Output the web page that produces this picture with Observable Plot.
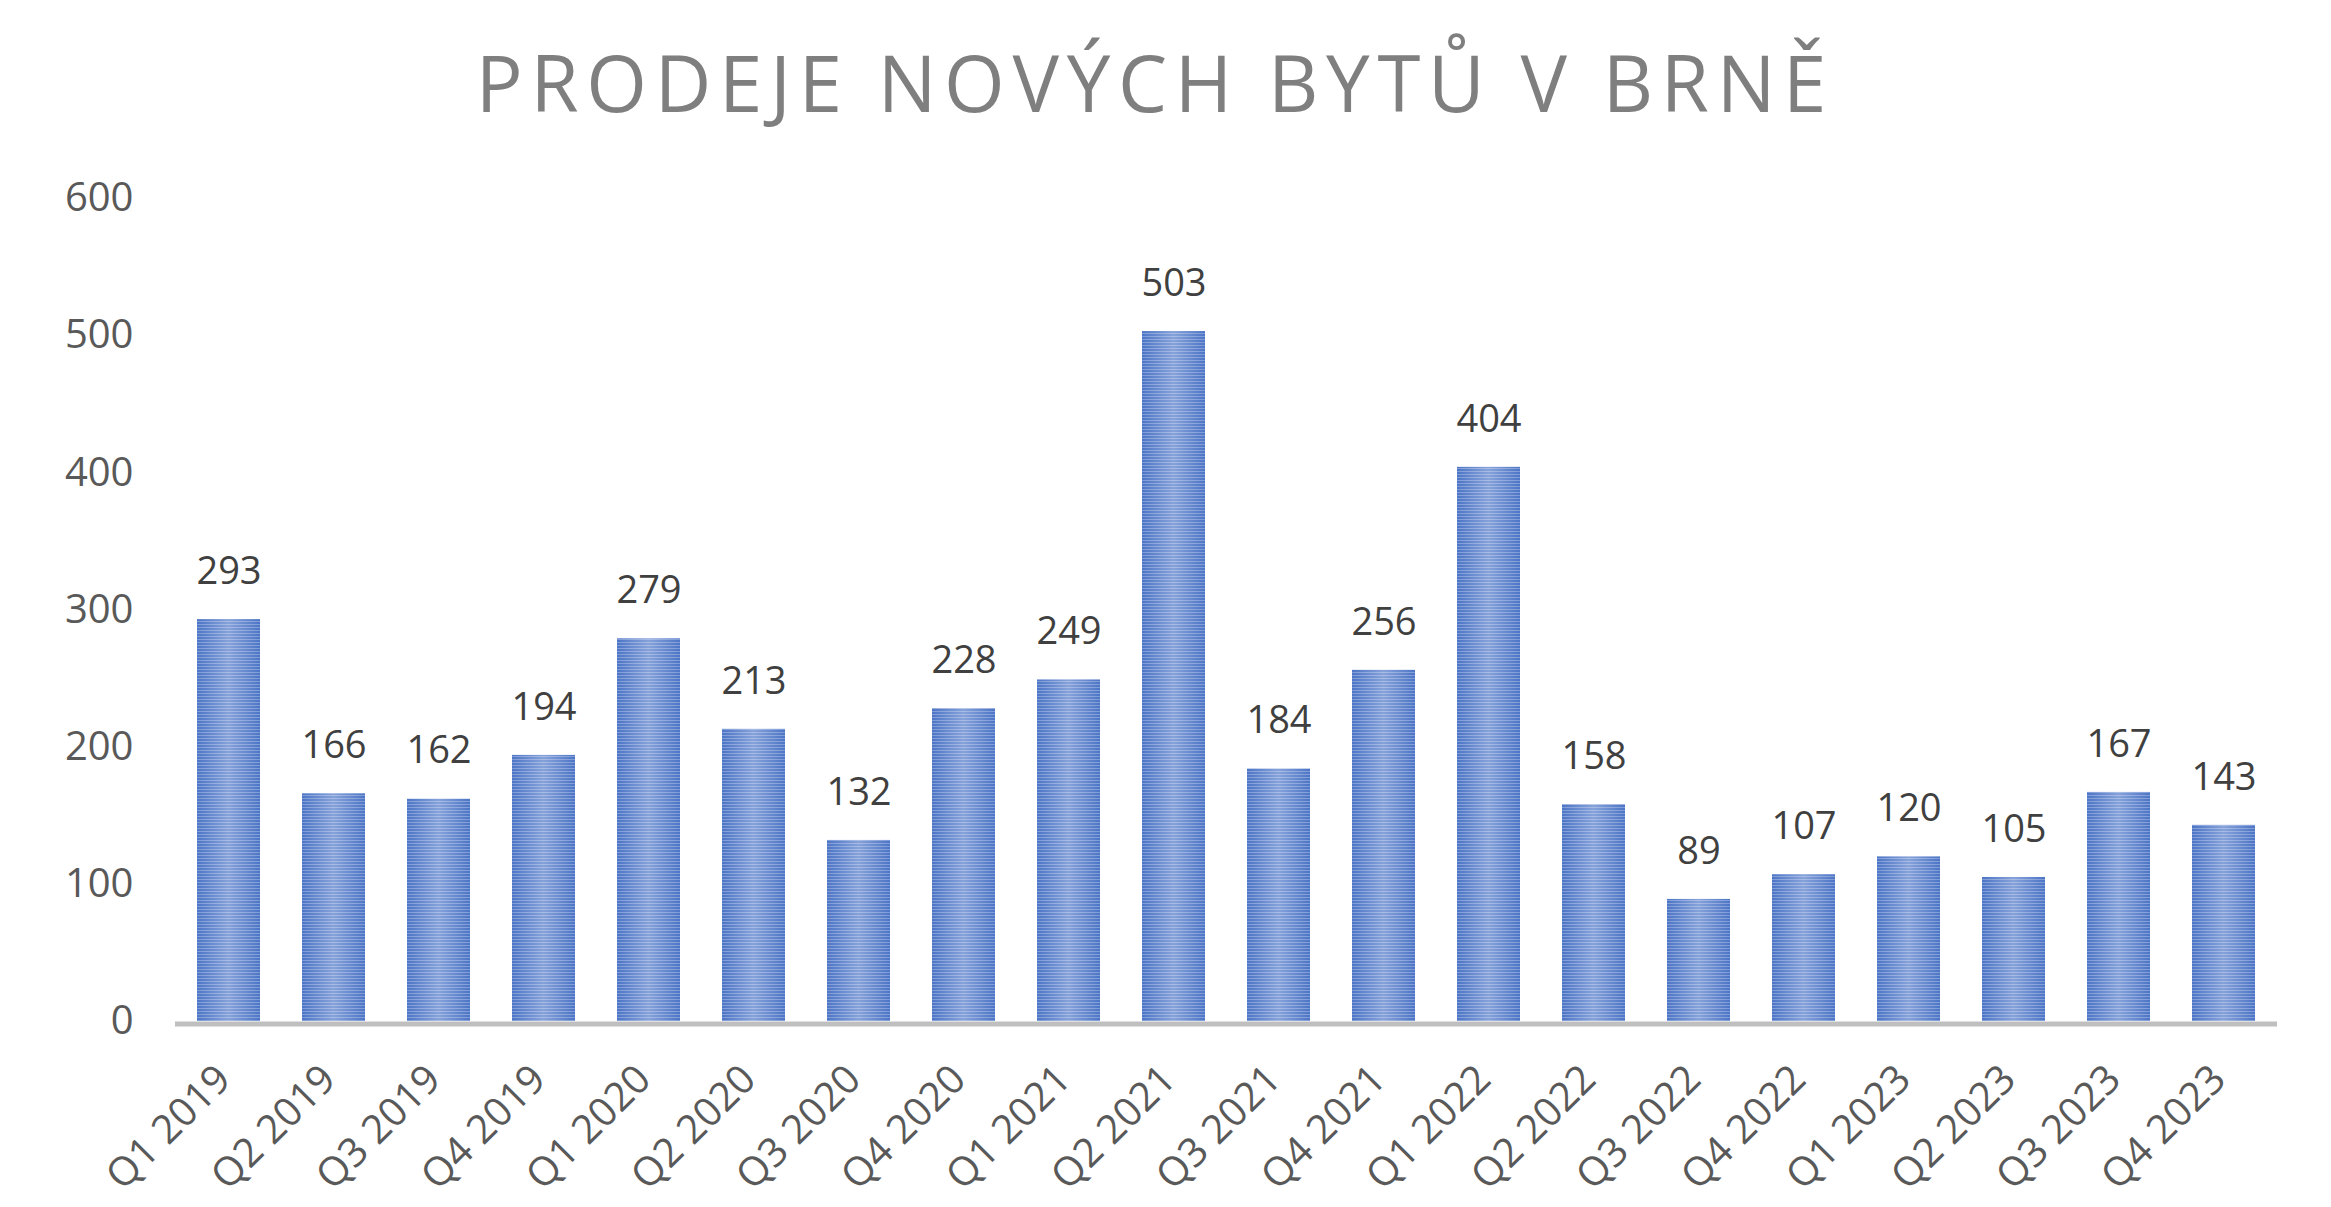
<!DOCTYPE html>
<html>
<head>
<meta charset="utf-8">
<script src="https://cdn.jsdelivr.net/npm/d3@7"></script>
<script src="https://cdn.jsdelivr.net/npm/@observablehq/plot@0.6"></script>
<style>
  html, body { margin: 0; padding: 0; background: #ffffff; }
  #wrap { position: relative; width: 2331px; height: 1207px; overflow: hidden; }
  #title {
    position: absolute; top: 43px; left: 1155px; transform: translateX(-50%);
    font-family: "Open Sans", sans-serif; font-weight: 400; font-size: 78px; line-height: 1;
    letter-spacing: 7.7px; color: #7f7f7f; white-space: nowrap; margin: 0;
  }
</style>
</head>
<body>
<div id="wrap">
  <div id="title">PRODEJE NOVÝCH BYTŮ V BRNĚ</div>
  <div id="chart"></div>
</div>
<script>
const quarters = ["Q1 2019","Q2 2019","Q3 2019","Q4 2019","Q1 2020","Q2 2020","Q3 2020","Q4 2020","Q1 2021","Q2 2021","Q3 2021","Q4 2021","Q1 2022","Q2 2022","Q3 2022","Q4 2022","Q1 2023","Q2 2023","Q3 2023","Q4 2023"];
const sales = [293,166,162,194,279,213,132,228,249,503,184,256,404,158,89,107,120,105,167,143];
const yTicks = [0,100,200,300,400,500,600];

const data = quarters.map((q, i) => ({quarter: q, value: sales[i]}));

const defs = () => {
  const svg = d3.create("svg:defs");
  const g = svg.append("linearGradient").attr("id", "barGrad").attr("x1", 0).attr("x2", 1).attr("y1", 0).attr("y2", 0);
  g.append("stop").attr("offset", "0%").attr("stop-color", "#4d75c6");
  g.append("stop").attr("offset", "50%").attr("stop-color", "#86a2da");
  g.append("stop").attr("offset", "100%").attr("stop-color", "#4d75c6");
  const p = svg.append("pattern").attr("id", "barStripes").attr("patternUnits", "userSpaceOnUse").attr("width", 8).attr("height", 3);
  p.append("rect").attr("x", 0).attr("y", 0).attr("width", 8).attr("height", 1).attr("fill", "rgba(255,255,255,0.28)");
  return svg.node();
};

const chart = Plot.plot({
  width: 2331,
  height: 1207,
  marginLeft: 175,
  marginRight: 54,
  marginTop: 198,
  marginBottom: 186,
  style: {fontFamily: "'Open Sans', sans-serif", background: "transparent"},
  x: {domain: quarters, paddingInner: 0.4, paddingOuter: 0.2, label: null, axis: null},
  y: {domain: [0, 600], label: null},
  marks: [
    defs,
    Plot.barY(data, {x: "quarter", y: "value", fill: "url(#barGrad)"}),
    Plot.barY(data, {x: "quarter", y: "value", fill: "url(#barStripes)"}),
    Plot.ruleY([0], {stroke: "#bfbfbf", strokeWidth: 5, dy: 2.5}),
    Plot.axisY(yTicks, {tickSize: 0, tickPadding: 42, fontSize: 40, color: "#595959", label: null}),
    Plot.text(quarters, {x: d => d, frameAnchor: "bottom", rotate: -45, textAnchor: "end", lineAnchor: "bottom", dx: 4, dy: 60, fontSize: 40, fill: "#595959"}),
    Plot.text(data, {x: "quarter", y: "value", text: d => String(d.value), dy: -48, fontSize: 38, fill: "#404040"})
  ]
});
document.getElementById("chart").appendChild(chart);
</script>
</body>
</html>
